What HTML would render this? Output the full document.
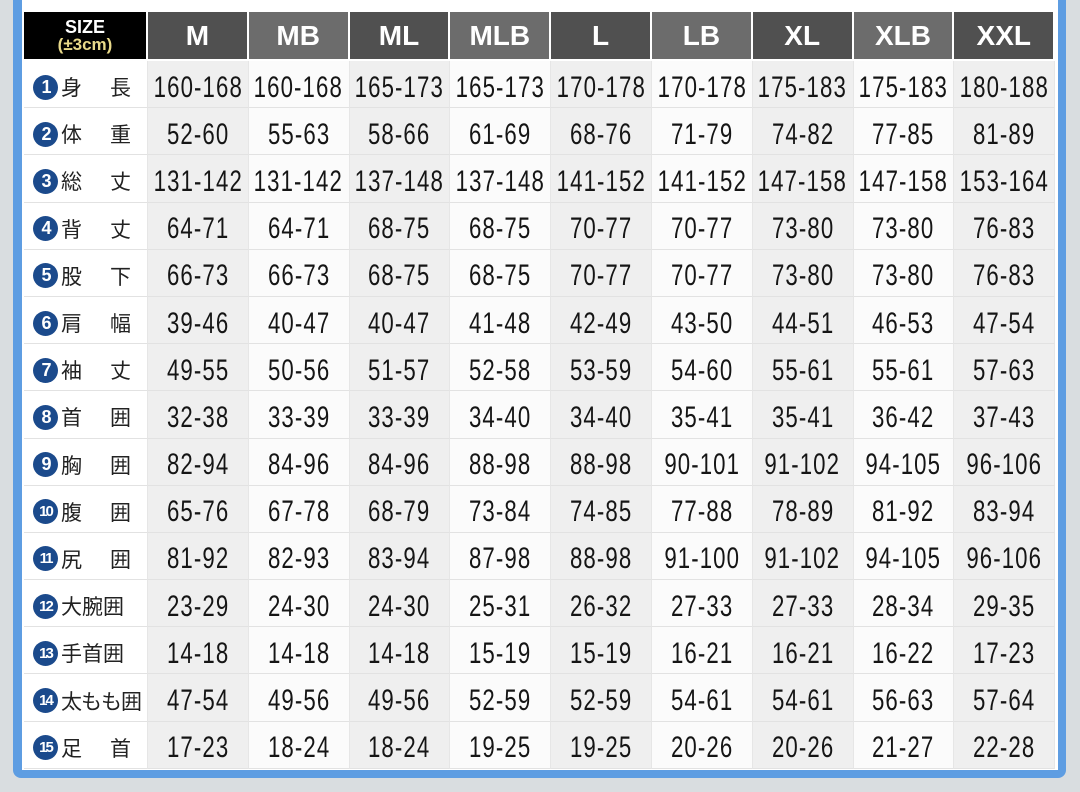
<!DOCTYPE html>
<html><head><meta charset="utf-8"><style>
body{margin:0;width:1080px;height:792px;background:#d9dde0;position:relative;overflow:hidden;font-family:"Liberation Sans","Noto Sans CJK JP",sans-serif}
#frame{position:absolute;left:13px;top:-10px;width:1053px;height:788px;background:#5e9de2;border-radius:0 0 8px 8px}
#inner{position:absolute;left:22px;top:0;width:1036px;height:770px;background:#fff}
#g{position:absolute;left:24px;top:12px;display:grid;grid-template-columns:124px repeat(9,100.8px);grid-template-rows:49px repeat(15,47.2px)}
#g>div{display:flex;align-items:center;justify-content:center;box-sizing:border-box;border-bottom:1px solid #e2e2e2;border-right:1px solid #e6e6e6}
.h{color:#fff;font-weight:bold;font-size:28px;border-right:2px solid #fff!important;border-bottom:2px solid #fff!important}
.hd{background:#505050}.hl{background:#6c6c6c}
.s{background:#000;flex-direction:column;line-height:18px}
.s b{font-size:18px;color:#fff}.s i{font-style:normal;font-weight:bold;font-size:17px;color:#e8d98a}
.n span{display:inline-block;font-size:30px;color:#151515;transform:scaleX(0.74);white-space:nowrap;letter-spacing:1.5px;padding-top:7px}
.o{background:#efefef}.e{background:#fbfbfb}
.lb{justify-content:flex-start!important;padding-left:9px;padding-top:6px;font-size:21px;color:#222;background:#fff}
.c{display:inline-flex;width:25px;height:25px;border-radius:50%;background:#1b4a8c;color:#fff;font-weight:bold;font-size:18px;align-items:center;justify-content:center;margin-right:3px;letter-spacing:-2px}
.c2{font-size:15px}
.w{display:inline-block;width:70px;display:inline-flex;justify-content:space-between}
</style></head><body>
<div id="frame"></div><div id="inner"></div>
<div id="g">
<div class="h s"><b>SIZE</b><i>(±3cm)</i></div><div class="h hd">M</div><div class="h hl">MB</div><div class="h hd">ML</div><div class="h hl">MLB</div><div class="h hd">L</div><div class="h hl">LB</div><div class="h hd">XL</div><div class="h hl">XLB</div><div class="h hd">XXL</div>

<div class="lb"><span class="c">1</span><span class="w"><span>身</span><span>長</span></span></div><div class="n o"><span>160-168</span></div><div class="n e"><span>160-168</span></div><div class="n o"><span>165-173</span></div><div class="n e"><span>165-173</span></div><div class="n o"><span>170-178</span></div><div class="n e"><span>170-178</span></div><div class="n o"><span>175-183</span></div><div class="n e"><span>175-183</span></div><div class="n o"><span>180-188</span></div>

<div class="lb"><span class="c">2</span><span class="w"><span>体</span><span>重</span></span></div><div class="n o"><span>52-60</span></div><div class="n e"><span>55-63</span></div><div class="n o"><span>58-66</span></div><div class="n e"><span>61-69</span></div><div class="n o"><span>68-76</span></div><div class="n e"><span>71-79</span></div><div class="n o"><span>74-82</span></div><div class="n e"><span>77-85</span></div><div class="n o"><span>81-89</span></div>

<div class="lb"><span class="c">3</span><span class="w"><span>総</span><span>丈</span></span></div><div class="n o"><span>131-142</span></div><div class="n e"><span>131-142</span></div><div class="n o"><span>137-148</span></div><div class="n e"><span>137-148</span></div><div class="n o"><span>141-152</span></div><div class="n e"><span>141-152</span></div><div class="n o"><span>147-158</span></div><div class="n e"><span>147-158</span></div><div class="n o"><span>153-164</span></div>

<div class="lb"><span class="c">4</span><span class="w"><span>背</span><span>丈</span></span></div><div class="n o"><span>64-71</span></div><div class="n e"><span>64-71</span></div><div class="n o"><span>68-75</span></div><div class="n e"><span>68-75</span></div><div class="n o"><span>70-77</span></div><div class="n e"><span>70-77</span></div><div class="n o"><span>73-80</span></div><div class="n e"><span>73-80</span></div><div class="n o"><span>76-83</span></div>

<div class="lb"><span class="c">5</span><span class="w"><span>股</span><span>下</span></span></div><div class="n o"><span>66-73</span></div><div class="n e"><span>66-73</span></div><div class="n o"><span>68-75</span></div><div class="n e"><span>68-75</span></div><div class="n o"><span>70-77</span></div><div class="n e"><span>70-77</span></div><div class="n o"><span>73-80</span></div><div class="n e"><span>73-80</span></div><div class="n o"><span>76-83</span></div>

<div class="lb"><span class="c">6</span><span class="w"><span>肩</span><span>幅</span></span></div><div class="n o"><span>39-46</span></div><div class="n e"><span>40-47</span></div><div class="n o"><span>40-47</span></div><div class="n e"><span>41-48</span></div><div class="n o"><span>42-49</span></div><div class="n e"><span>43-50</span></div><div class="n o"><span>44-51</span></div><div class="n e"><span>46-53</span></div><div class="n o"><span>47-54</span></div>

<div class="lb"><span class="c">7</span><span class="w"><span>袖</span><span>丈</span></span></div><div class="n o"><span>49-55</span></div><div class="n e"><span>50-56</span></div><div class="n o"><span>51-57</span></div><div class="n e"><span>52-58</span></div><div class="n o"><span>53-59</span></div><div class="n e"><span>54-60</span></div><div class="n o"><span>55-61</span></div><div class="n e"><span>55-61</span></div><div class="n o"><span>57-63</span></div>

<div class="lb"><span class="c">8</span><span class="w"><span>首</span><span>囲</span></span></div><div class="n o"><span>32-38</span></div><div class="n e"><span>33-39</span></div><div class="n o"><span>33-39</span></div><div class="n e"><span>34-40</span></div><div class="n o"><span>34-40</span></div><div class="n e"><span>35-41</span></div><div class="n o"><span>35-41</span></div><div class="n e"><span>36-42</span></div><div class="n o"><span>37-43</span></div>

<div class="lb"><span class="c">9</span><span class="w"><span>胸</span><span>囲</span></span></div><div class="n o"><span>82-94</span></div><div class="n e"><span>84-96</span></div><div class="n o"><span>84-96</span></div><div class="n e"><span>88-98</span></div><div class="n o"><span>88-98</span></div><div class="n e"><span>90-101</span></div><div class="n o"><span>91-102</span></div><div class="n e"><span>94-105</span></div><div class="n o"><span>96-106</span></div>

<div class="lb"><span class="c c2">10</span><span class="w"><span>腹</span><span>囲</span></span></div><div class="n o"><span>65-76</span></div><div class="n e"><span>67-78</span></div><div class="n o"><span>68-79</span></div><div class="n e"><span>73-84</span></div><div class="n o"><span>74-85</span></div><div class="n e"><span>77-88</span></div><div class="n o"><span>78-89</span></div><div class="n e"><span>81-92</span></div><div class="n o"><span>83-94</span></div>

<div class="lb"><span class="c c2">11</span><span class="w"><span>尻</span><span>囲</span></span></div><div class="n o"><span>81-92</span></div><div class="n e"><span>82-93</span></div><div class="n o"><span>83-94</span></div><div class="n e"><span>87-98</span></div><div class="n o"><span>88-98</span></div><div class="n e"><span>91-100</span></div><div class="n o"><span>91-102</span></div><div class="n e"><span>94-105</span></div><div class="n o"><span>96-106</span></div>

<div class="lb"><span class="c c2">12</span><span>大腕囲</span></div><div class="n o"><span>23-29</span></div><div class="n e"><span>24-30</span></div><div class="n o"><span>24-30</span></div><div class="n e"><span>25-31</span></div><div class="n o"><span>26-32</span></div><div class="n e"><span>27-33</span></div><div class="n o"><span>27-33</span></div><div class="n e"><span>28-34</span></div><div class="n o"><span>29-35</span></div>

<div class="lb"><span class="c c2">13</span><span>手首囲</span></div><div class="n o"><span>14-18</span></div><div class="n e"><span>14-18</span></div><div class="n o"><span>14-18</span></div><div class="n e"><span>15-19</span></div><div class="n o"><span>15-19</span></div><div class="n e"><span>16-21</span></div><div class="n o"><span>16-21</span></div><div class="n e"><span>16-22</span></div><div class="n o"><span>17-23</span></div>

<div class="lb"><span class="c c2">14</span><span style="letter-spacing:-1px">太もも囲</span></div><div class="n o"><span>47-54</span></div><div class="n e"><span>49-56</span></div><div class="n o"><span>49-56</span></div><div class="n e"><span>52-59</span></div><div class="n o"><span>52-59</span></div><div class="n e"><span>54-61</span></div><div class="n o"><span>54-61</span></div><div class="n e"><span>56-63</span></div><div class="n o"><span>57-64</span></div>

<div class="lb"><span class="c c2">15</span><span class="w"><span>足</span><span>首</span></span></div><div class="n o"><span>17-23</span></div><div class="n e"><span>18-24</span></div><div class="n o"><span>18-24</span></div><div class="n e"><span>19-25</span></div><div class="n o"><span>19-25</span></div><div class="n e"><span>20-26</span></div><div class="n o"><span>20-26</span></div><div class="n e"><span>21-27</span></div><div class="n o"><span>22-28</span></div>
</div>
</body></html>
